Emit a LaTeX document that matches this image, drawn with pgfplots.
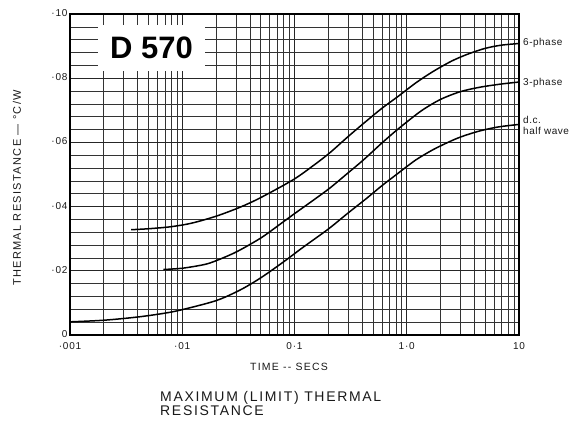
\documentclass[border=0pt]{standalone}
\usepackage{pgfplots}
\pgfplotsset{compat=1.18}
\usepackage{fontspec}
\setmainfont{Liberation Sans}
\newfontfamily\widefont[LetterSpace=12]{Liberation Sans}
\newfontfamily\tickfont[LetterSpace=8]{Liberation Sans}
\newfontfamily\labfont[LetterSpace=5]{Liberation Sans}
\begin{document}
\begin{tikzpicture}
\begin{axis}[
  at={(0pt,0pt)}, anchor=south west,
  scale only axis, width=449pt, height=321pt,
  xmode=log, xmin=0.001, xmax=10, ymin=0, ymax=0.10,
  xtick={0.001,0.01,0.1,1,10},
  xticklabels={{\tickfont ·001},{\tickfont ·01},{\tickfont 0·1},{\tickfont 1·0},{\tickfont 10}},
  minor xtick={0.002,0.003,0.004,0.005,0.006,0.007,0.008,0.009,
               0.02,0.03,0.04,0.05,0.06,0.07,0.08,0.09,
               0.2,0.3,0.4,0.5,0.6,0.7,0.8,0.9,
               2,3,4,5,6,7,8,9},
  ytick={0,0.02,0.04,0.06,0.08,0.10},
  yticklabels={{\tickfont 0},{\tickfont ·02},{\tickfont ·04},{\tickfont ·06},{\tickfont ·08},{\tickfont ·10}},
  minor ytick={0.004,0.008,0.012,0.016,0.024,0.028,0.032,0.036,0.044,0.048,0.052,0.056,0.064,0.068,0.072,0.076,0.084,0.088,0.092,0.096},
  major tick length=0pt, minor tick length=0pt,
  grid=both,
  major grid style={black!85, line width=0.8pt},
  minor grid style={black!80, line width=0.6pt},
  axis line style={black, line width=1.3pt},
  tick label style={font=\fontsize{10}{11}\selectfont, text=black!90},
  xticklabel style={yshift=-4pt},
  yticklabel style={xshift=1pt, yshift=1pt},
  clip=false,
]
\addplot[black, line width=1.5pt, smooth] table {
0.0035 0.0328
0.005 0.0331
0.0078 0.0337
0.012 0.0348
0.02 0.0370
0.0327 0.0398
0.05 0.0428
0.0977 0.0484
0.15 0.0530
0.207 0.0568
0.3 0.0618
0.425 0.0663
0.6 0.0706
0.85 0.0745
1.2 0.0785
1.7 0.0820
2.5 0.0853
3.5 0.0875
5 0.0893
7 0.0903
10 0.0908
};
\addplot[black, line width=1.5pt, smooth] table {
0.0068 0.0204
0.01 0.0208
0.015 0.0218
0.0189 0.0228
0.03 0.0258
0.05 0.0302
0.0743 0.0345
0.1 0.0378
0.15 0.0422
0.207 0.0458
0.3 0.0505
0.41 0.0545
0.6 0.0598
0.8 0.0636
1.1 0.0675
1.41 0.0703
2 0.0734
3 0.0758
4.5 0.0772
7 0.0782
10 0.0788
};
\addplot[black, line width=1.5pt, smooth] table {
0.001 0.0041
0.002 0.0046
0.004 0.0056
0.007 0.0068
0.01 0.0079
0.02 0.0107
0.0327 0.0140
0.05 0.0178
0.08 0.0228
0.12 0.0274
0.2 0.0330
0.3 0.0380
0.44 0.0426
0.6 0.0465
0.81 0.0500
1.2 0.0545
1.73 0.0578
2.5 0.0605
3.2 0.0620
4.5 0.0636
6.5 0.0648
10 0.0656
};
\node[fill=white, minimum width=107pt, minimum height=46pt, inner sep=0pt,
      font=\fontsize{31}{31}\selectfont\bfseries] at (axis cs:0.00532,0.0894) {D 570};
\end{axis}
% labels outside the axis (pt = pixel of the reference)
\begin{scope}[every node/.style={inner sep=0pt, font=\labfont\fontsize{10}{11}\selectfont, text=black!90}]
\node[anchor=west] at (453pt,292pt) {6-phase};
\node[anchor=west] at (453pt,252pt) {3-phase};
\node[anchor=north west, align=left, font=\labfont\fontsize{10}{11.5}\selectfont] at (453pt,219pt) {d.c.\\half wave};
\end{scope}
\node[inner sep=0pt, font=\widefont\fontsize{10.5}{11}\selectfont, text=black!90] at (219pt,-32pt) {TIME -- SECS};
\node[inner sep=0pt, rotate=90, font=\widefont\fontsize{11}{12}\selectfont, text=black!90] at (-53pt,147pt) {THERMAL RESISTANCE — °C/W};
\node[inner sep=0pt, anchor=north west, align=left, font=\widefont\fontsize{14}{14}\selectfont, text=black!90] at (90pt,-56pt) {MAXIMUM (LIMIT) THERMAL\\RESISTANCE};
\pgfresetboundingbox
\path (-70pt,-88pt) rectangle (509pt,335pt);
\end{tikzpicture}
\end{document}
